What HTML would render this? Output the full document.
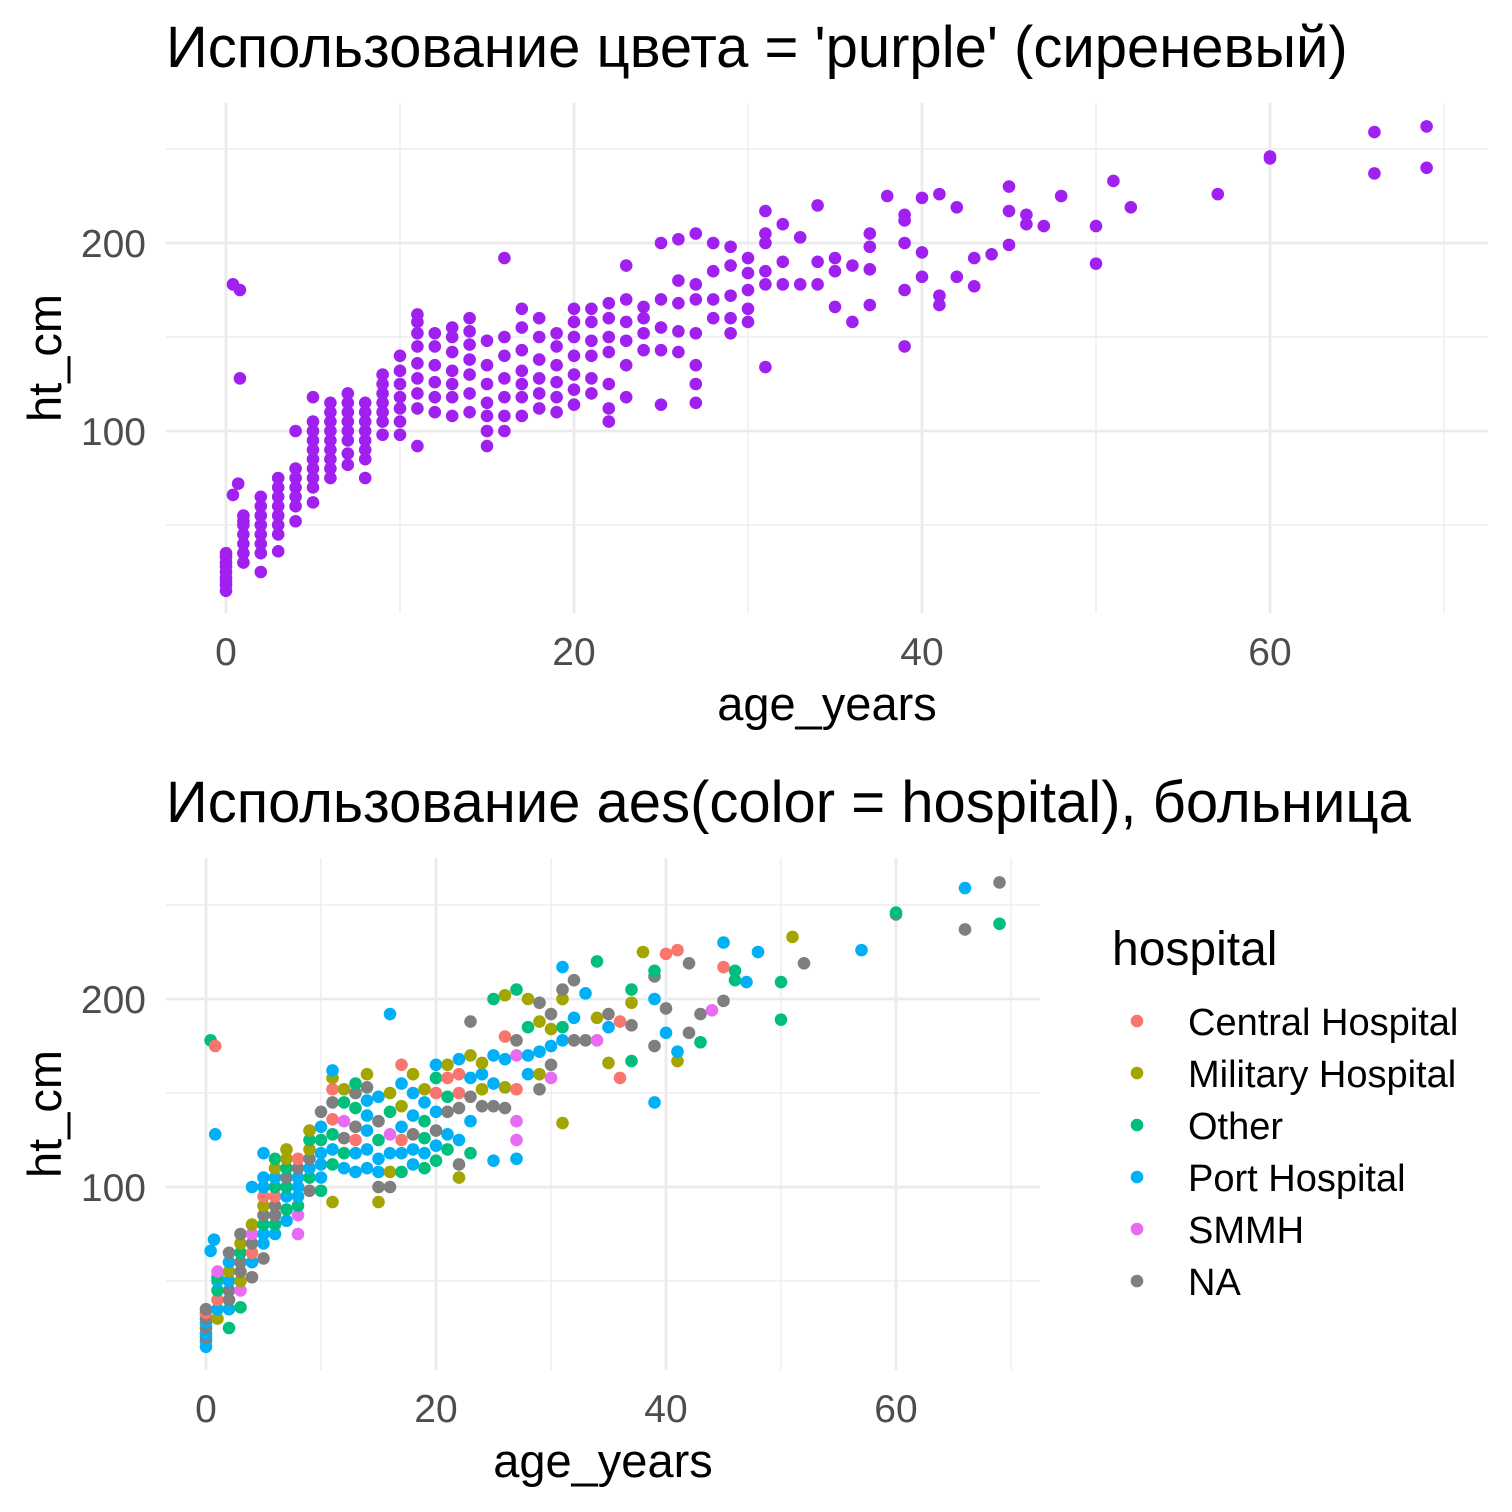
<!DOCTYPE html>
<html><head><meta charset="utf-8">
<style>
html,body{margin:0;padding:0;background:#fff;}
svg{display:block;font-family:"Liberation Sans","DejaVu Sans",sans-serif;}
</style></head>
<body>
<svg id="chart" width="1512" height="1512" viewBox="0 0 1512 1512" xmlns="http://www.w3.org/2000/svg">
<rect width="1512" height="1512" fill="#fff"/>
<g id="top"></g>
<g id="bot"></g>
</svg>
<script>
const points = [
[0,15,'P'],[0,18,'P'],[0,20,'N'],[0,22,'P'],[0,25,'N'],[0,28,'P'],[0,30,'N'],[0,33,'C'],[0,35,'N'],
[0.4,178,'O'],[0.4,66,'P'],[0.8,175,'C'],[0.8,128,'P'],[0.7,72,'P'],
[1,30,'M'],[1,35,'P'],[1,40,'C'],[1,45,'O'],[1,50,'P'],[1,52,'O'],[1,55,'S'],
[2,25,'O'],[2,35,'P'],[2,40,'N'],[2,45,'N'],[2,50,'P'],[2,55,'M'],[2,60,'P'],[2,65,'N'],
[3,36,'O'],[3,45,'S'],[3,50,'M'],[3,55,'N'],[3,60,'N'],[3,65,'O'],[3,70,'M'],[3,75,'N'],
[4,52,'N'],[4,60,'P'],[4,65,'C'],[4,70,'N'],[4,75,'S'],[4,80,'M'],[4,100,'P'],
[5,62,'N'],[5,70,'P'],[5,75,'P'],[5,80,'O'],[5,85,'N'],[5,90,'M'],[5,95,'C'],[5,100,'P'],[5,105,'P'],[5,118,'P'],
[6,75,'P'],[6,80,'O'],[6,85,'N'],[6,90,'N'],[6,95,'C'],[6,100,'O'],[6,105,'P'],[6,110,'M'],[6,115,'O'],
[7,82,'P'],[7,88,'O'],[7,95,'P'],[7,100,'O'],[7,105,'N'],[7,110,'O'],[7,115,'M'],[7,120,'M'],
[8,75,'S'],[8,85,'S'],[8,90,'O'],[8,95,'P'],[8,100,'P'],[8,105,'P'],[8,110,'N'],[8,115,'C'],
[9,98,'N'],[9,105,'O'],[9,110,'P'],[9,115,'N'],[9,120,'M'],[9,125,'O'],[9,130,'M'],
[10,98,'O'],[10,105,'P'],[10,112,'P'],[10,118,'P'],[10,125,'O'],[10,132,'P'],[10,140,'N'],
[11,92,'M'],[11,112,'O'],[11,120,'P'],[11,128,'O'],[11,136,'C'],[11,145,'N'],[11,152,'C'],[11,158,'M'],[11,162,'P'],
[12,110,'P'],[12,118,'O'],[12,126,'N'],[12,135,'S'],[12,145,'O'],[12,152,'M'],
[13,108,'P'],[13,118,'P'],[13,125,'C'],[13,132,'N'],[13,142,'O'],[13,150,'N'],[13,155,'O'],
[14,110,'P'],[14,120,'P'],[14,130,'P'],[14,138,'P'],[14,146,'P'],[14,153,'N'],[14,160,'M'],
[15,92,'M'],[15,100,'N'],[15,108,'P'],[15,115,'P'],[15,125,'O'],[15,135,'N'],[15,148,'P'],
[16,100,'N'],[16,108,'M'],[16,118,'P'],[16,128,'S'],[16,140,'O'],[16,150,'M'],[16,192,'P'],
[17,108,'O'],[17,118,'P'],[17,125,'C'],[17,132,'P'],[17,143,'M'],[17,155,'P'],[17,165,'C'],
[18,112,'P'],[18,120,'P'],[18,128,'N'],[18,138,'P'],[18,150,'P'],[18,160,'M'],
[19,110,'O'],[19,118,'P'],[19,126,'O'],[19,135,'O'],[19,145,'P'],[19,152,'M'],
[20,114,'O'],[20,122,'P'],[20,130,'N'],[20,140,'P'],[20,150,'C'],[20,158,'O'],[20,165,'P'],
[21,120,'O'],[21,128,'P'],[21,140,'N'],[21,148,'O'],[21,158,'C'],[21,165,'M'],
[22,105,'M'],[22,112,'N'],[22,125,'P'],[22,142,'N'],[22,150,'C'],[22,160,'C'],[22,168,'P'],
[23,118,'O'],[23,135,'P'],[23,148,'N'],[23,158,'P'],[23,170,'M'],[23,188,'N'],
[24,143,'N'],[24,152,'M'],[24,160,'P'],[24,166,'M'],
[25,114,'P'],[25,143,'N'],[25,155,'P'],[25,170,'P'],[25,200,'O'],
[26,142,'N'],[26,153,'M'],[26,168,'P'],[26,180,'C'],[26,202,'M'],
[27,115,'P'],[27,125,'S'],[27,135,'S'],[27,152,'C'],[27,170,'S'],[27,178,'N'],[27,205,'O'],
[28,160,'P'],[28,170,'P'],[28,185,'O'],[28,200,'M'],
[29,152,'N'],[29,160,'M'],[29,172,'P'],[29,188,'M'],[29,198,'N'],
[30,158,'S'],[30,165,'N'],[30,175,'P'],[30,184,'M'],[30,192,'N'],
[31,134,'M'],[31,178,'P'],[31,185,'O'],[31,200,'M'],[31,205,'N'],[31,217,'P'],
[32,178,'N'],[32,190,'P'],[32,210,'N'],
[33,178,'N'],[33,203,'P'],
[34,178,'S'],[34,190,'M'],[34,220,'O'],
[35,166,'M'],[35,185,'P'],[35,192,'N'],
[36,158,'C'],[36,188,'C'],
[37,167,'O'],[37,186,'N'],[37,198,'M'],[37,205,'O'],
[38,225,'M'],
[39,145,'P'],[39,175,'N'],[39,200,'P'],[39,212,'N'],[39,215,'O'],
[40,182,'P'],[40,195,'N'],[40,224,'C'],
[41,167,'M'],[41,172,'P'],[41,226,'C'],
[42,182,'N'],[42,219,'N'],
[43,177,'O'],[43,192,'N'],
[44,194,'S'],
[45,199,'N'],[45,217,'C'],[45,230,'P'],
[46,210,'O'],[46,215,'O'],
[47,209,'P'],
[48,225,'P'],
[50,189,'O'],[50,209,'O'],
[51,233,'M'],
[52,219,'N'],
[57,226,'P'],
[60,245,'N'],[60,246,'O'],
[66,237,'N'],[66,259,'P'],
[69,240,'O'],[69,262,'N']
];
const hospitalLevels = ['Central Hospital','Military Hospital','Other','Port Hospital','SMMH','NA'];
const hospitalCodes = ['C','M','O','P','S','N'];
const hospitalColors = ['#F8766D','#A3A500','#00BF7D','#00B0F6','#E76BF3','#7F7F7F'];
const xMajor = [0,20,40,60];
const xMinor = [10,30,50,70];
const yMajor = [100,200];
const yMinor = [50,150,250];

const NS='http://www.w3.org/2000/svg';
function mk(parent,tag,attrs,text){const e=document.createElementNS(NS,tag);for(const k in attrs)e.setAttribute(k,attrs[k]);if(text!==undefined)e.textContent=text;parent.appendChild(e);return e;}

function panel(g,cfg){
  const x=v=>cfg.x0+v*cfg.xs, y=v=>cfg.y0-(v-0)*cfg.ys;
  for(const v of yMinor){const l=mk(g,'line',{x1:cfg.l,x2:cfg.r,y1:y(v),y2:y(v),stroke:'#EBEBEB','stroke-width':1.3});
    
    }
  for(const v of xMinor){const l=mk(g,'line',{x1:x(v),x2:x(v),y1:cfg.t,y2:cfg.b,stroke:'#EBEBEB','stroke-width':1.3});
    
    }
  for(const v of yMajor){const l=mk(g,'line',{x1:cfg.l,x2:cfg.r,y1:y(v),y2:y(v),stroke:'#EBEBEB','stroke-width':2.8});
    
    
    const t=mk(g,'text',{x:cfg.l-20,y:y(v)+14,'text-anchor':'end','font-size':39,fill:'#4D4D4D'},String(v));
    
    }
  for(const v of xMajor){const l=mk(g,'line',{x1:x(v),x2:x(v),y1:cfg.t,y2:cfg.b,stroke:'#EBEBEB','stroke-width':2.8});
    
    
    const t=mk(g,'text',{x:x(v),y:cfg.b+52,'text-anchor':'middle','font-size':39,fill:'#4D4D4D'},String(v));
    
    }
  for(const p of points){
    const col=cfg.mono?'#A020F0':hospitalColors[hospitalCodes.indexOf(p[2])];
    const c=mk(g,'circle',{cx:x(p[0]),cy:y(p[1]),r:6.3,fill:col});
    
    
  }
  const tt=mk(g,'text',{x:166,y:cfg.titleY,'font-size':58,fill:'#000'},cfg.title);
  
  
  const xt=mk(g,'text',{x:(cfg.l+cfg.r)/2,y:cfg.b+107,'text-anchor':'middle','font-size':47,fill:'#000'},'age_years');
  
  
  const cy=(cfg.t+cfg.b)/2;
  const yt=mk(g,'text',{x:0,y:0,'text-anchor':'middle','font-size':47,fill:'#000',transform:`translate(61,${cy}) rotate(-90)`},'ht_cm');
  
  
}
panel(document.getElementById('top'),{x0:226,xs:17.4,y0:619,ys:1.88,l:166,r:1488,t:103,b:613,titleY:67,mono:true,
  title:"Использование цвета = 'purple' (сиреневый)"});
panel(document.getElementById('bot'),{x0:206,xs:11.5,y0:1375,ys:1.88,l:166,r:1040,t:858,b:1370,titleY:822,mono:false,
  title:"Использование aes(color = hospital), больница"});

const bot=document.getElementById('bot');
const lg=mk(bot,'g',{});


const lt=mk(lg,'text',{x:1112,y:965,'font-size':48,fill:'#000'},'hospital');


hospitalLevels.forEach((h,i)=>{
  const yy=1021+i*52;
  const c=mk(lg,'circle',{cx:1137,cy:yy,r:6.3,fill:hospitalColors[i]});
  
  
  const t=mk(lg,'text',{x:1188,y:yy+14,'font-size':38,fill:'#000'},h);
  
  
});
</script>
</body></html>
